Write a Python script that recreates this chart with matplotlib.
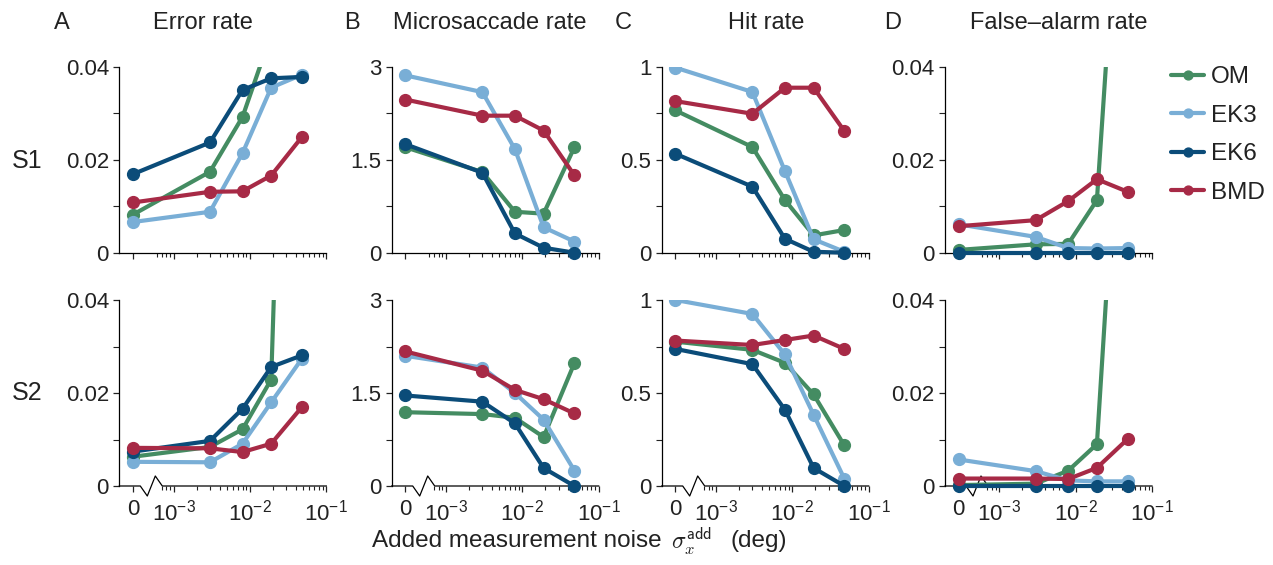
import numpy as np
import matplotlib
matplotlib.use("Agg")
import matplotlib.pyplot as plt
from matplotlib.patches import Rectangle

plt.rcParams["font.family"] = ["Liberation Sans", "DejaVu Sans"]
plt.rcParams["mathtext.fontset"] = "custom"
plt.rcParams["mathtext.rm"] = "Liberation Sans"
plt.rcParams["mathtext.it"] = "Liberation Sans:italic"
plt.rcParams["text.color"] = "#222222"

# added measurement noise (deg); 0 is drawn left of the axis break
noise = [0, 0.003, 0.008, 0.019, 0.048]
models = ["OM", "EK3", "EK6", "BMD"]
colors = {"OM": "#448c62", "EK3": "#79aed6", "EK6": "#0b4c79", "BMD": "#a72a46"}

titles = ["Error rate", "Microsaccade rate", "Hit rate", "False\u2013alarm rate"]
letters = ["A", "B", "C", "D"]
subjects = ["S1", "S2"]
ymax = [0.04, 3, 1, 0.04]
ytick_labels = [["0", "0.02", "0.04"], ["0", "1.5", "3"], ["0", "0.5", "1"], ["0", "0.02", "0.04"]]

err_s1 = {"OM": [0.0082, 0.0174, 0.0292, 0.047, 0.08],
          "EK3": [0.0066, 0.0088, 0.0214, 0.0355, 0.0383],
          "EK6": [0.0169, 0.0237, 0.0350, 0.0375, 0.0378],
          "BMD": [0.0108, 0.0131, 0.0132, 0.0166, 0.0249]}
err_s2 = {"OM": [0.0063, 0.0084, 0.0122, 0.0229, 0.23],
          "EK3": [0.0052, 0.0051, 0.0091, 0.0180, 0.0274],
          "EK6": [0.0074, 0.0097, 0.0166, 0.0256, 0.0281],
          "BMD": [0.0082, 0.0081, 0.0073, 0.0091, 0.0170]}
ms_s1 = {"OM": [1.70, 1.30, 0.66, 0.63, 1.70],
         "EK3": [2.86, 2.59, 1.67, 0.41, 0.18],
         "EK6": [1.75, 1.29, 0.31, 0.08, 0.0],
         "BMD": [2.47, 2.21, 2.21, 1.97, 1.25]}
ms_s2 = {"OM": [1.19, 1.16, 1.10, 0.79, 1.98],
         "EK3": [2.10, 1.91, 1.50, 1.07, 0.25],
         "EK6": [1.46, 1.36, 1.01, 0.29, 0.0],
         "BMD": [2.17, 1.86, 1.55, 1.40, 1.17]}
hit_s1 = {"OM": [0.765, 0.568, 0.283, 0.093, 0.122],
          "EK3": [0.995, 0.864, 0.439, 0.072, 0.005],
          "EK6": [0.532, 0.355, 0.075, 0.005, 0.0],
          "BMD": [0.815, 0.747, 0.887, 0.887, 0.654]}
hit_s2 = {"OM": [0.776, 0.732, 0.662, 0.492, 0.218],
          "EK3": [1.0, 0.925, 0.707, 0.383, 0.039],
          "EK6": [0.737, 0.655, 0.41, 0.097, 0.0],
          "BMD": [0.782, 0.758, 0.785, 0.809, 0.737]}
fa_s1 = {"OM": [0.0006, 0.0018, 0.0019, 0.0113, 0.11],
         "EK3": [0.0061, 0.0034, 0.0010, 0.0009, 0.0010],
         "EK6": [0.0, 0.0, 0.0, 0.0, 0.0],
         "BMD": [0.0057, 0.0070, 0.0111, 0.0158, 0.0131]}
fa_s2 = {"OM": [0.0002, 0.0005, 0.0033, 0.0090, 0.114],
         "EK3": [0.0057, 0.0032, 0.0012, 0.0010, 0.0010],
         "EK6": [0.0, 0.0, 0.0, 0.0, 0.0],
         "BMD": [0.0016, 0.0016, 0.0015, 0.0039, 0.0101]}

panels = [[err_s1, ms_s1, hit_s1, fa_s1], [err_s2, ms_s2, hit_s2, fa_s2]]

X_ZERO = -3.53          # where "0" sits on the log10 axis
XLIM = (-3.71, -1.0)


def xpos(v):
    return np.log10(v) if v > 0 else X_ZERO


W, H = 1273, 565
fig = plt.figure(figsize=(W / 100, H / 100), dpi=100)

lefts = [119.3, 391.7, 661.7, 945]
bottoms = [252.7, 486]
aw, ah = 207, 186

xs = [xpos(v) for v in noise]
minor = [np.log10(k * 10.0 ** e) for e in (-4, -3, -2) for k in range(2, 10)]

for r in range(2):
    for c in range(4):
        ax = fig.add_axes([lefts[c] / W, 1 - bottoms[r] / H, aw / W, ah / H])
        data = panels[r][c]
        clip = Rectangle((-0.2, -0.2), 1.4, 1.2, transform=ax.transAxes)
        for m in models:
            ln, = ax.plot(xs, data[m], "-o", color=colors[m], lw=3, ms=8.5,
                          solid_capstyle="round", label=m, zorder=3)
            ln.set_clip_path(clip)
        ax.set_xlim(*XLIM)
        ax.set_ylim(0, ymax[c])
        ax.set_yticks([0, ymax[c] / 2, ymax[c]])
        ax.set_yticklabels(ytick_labels[c])
        ax.set_yticks([ymax[c] / 4, 3 * ymax[c] / 4], minor=True)
        ax.set_xticks([X_ZERO, -3, -2, -1])
        lo = -3.3 if r == 0 else -3.16
        ax.set_xticks([v for v in minor if lo < v < XLIM[1]], minor=True)
        if r == 1:
            ax.set_xticklabels(["0", "$10^{-3}$", "$10^{-2}$", "$10^{-1}$"])
        else:
            ax.set_xticklabels([])
        ax.spines[["top", "right"]].set_visible(False)
        for s in ("left", "bottom"):
            ax.spines[s].set_linewidth(0.9)
        ax.tick_params(which="major", direction="out", length=4.5, width=0.9,
                       labelsize=16, pad=3, colors="#222222")
        ax.tick_params(which="minor", direction="out", length=3, width=0.8, colors="#222222")
        ax.tick_params(axis="x", which="major", pad=5)
        ax.tick_params(axis="y", which="minor", length=4.5)
        if r == 1:
            # axis break on the x axis
            ax.spines["bottom"].set_visible(False)
            px, py = 1 / aw, 1 / ah
            ax.plot([0, 21 * px, 28 * px, 36 * px, 43 * px, 1],
                    [0, 0, -10 * py, 10 * py, 0, 0],
                    transform=ax.transAxes, color="black", lw=0.9,
                    clip_on=False, zorder=1)

letter_x = [62, 352, 623, 893]
title_x = [203, 490, 766, 1059]
for c in range(4):
    fig.text(letter_x[c] / W, 1 - 23 / H, letters[c], fontsize=17, ha="center", va="center")
    fig.text(title_x[c] / W, 1 - 23 / H, titles[c], fontsize=17, ha="center", va="center")

fig.text(27 / W, 1 - 161 / H, "S1", fontsize=18, ha="center", va="center")
fig.text(27 / W, 1 - 393 / H, "S2", fontsize=18, ha="center", va="center")

fig.text(668 / W, 1 - 541 / H, "Added measurement noise ", fontsize=17.5, ha="right", va="center")
fig.text(671 / W, 1 - 541 / H, r"$\sigma_x^{\mathsf{add}}$", fontsize=17, ha="left",
         va="center", math_fontfamily="cm")
fig.text(731 / W, 1 - 541 / H, "(deg)", fontsize=17.5, ha="left", va="center")

handles, labels = fig.axes[0].get_legend_handles_labels()
fig.legend(handles, labels, loc="upper left", bbox_to_anchor=(1171 / W, 1 - 66 / H),
           frameon=False, fontsize=17.5, handlelength=1.36, handletextpad=0.3,
           labelspacing=0.68, markerscale=0.75, borderaxespad=0, borderpad=0)

fig.savefig("out.png", dpi=100)
